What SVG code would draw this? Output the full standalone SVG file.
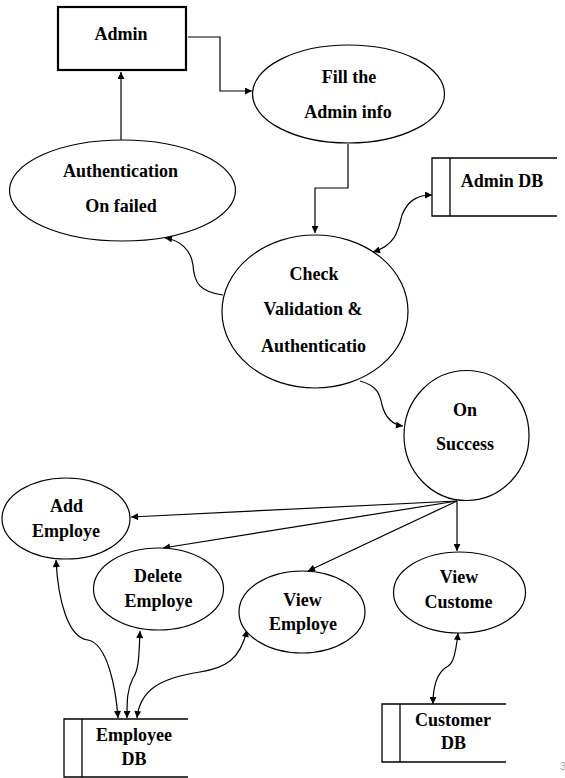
<svg xmlns="http://www.w3.org/2000/svg" width="565" height="778" viewBox="0 0 565 778">
<style>
.n{fill:#fff;stroke:#000;stroke-width:1.2}
.db{fill:none;stroke:#000;stroke-width:1.3}
.t{font-family:"Liberation Serif","Times New Roman",serif;font-weight:bold;font-size:18px;fill:#000;text-anchor:middle}
.c{fill:none;stroke:#000;stroke-width:1.2}
.a{marker-end:url(#ah)}
.b{marker-start:url(#ah);marker-end:url(#ah)}
</style>
<defs>
<marker id="ah" viewBox="0 0 10 10" refX="10" refY="5" markerWidth="8" markerHeight="7" markerUnits="userSpaceOnUse" orient="auto-start-reverse">
<path d="M0,0 L10,5 L0,10 z" fill="#000"/>
</marker>
</defs>
<rect width="565" height="778" fill="#fff"/>
<g id="connectors">
<path class="c a" d="M188,37 H220 V91 H252"/>
<path class="c a" d="M121,140 V72"/>
<path class="c a" d="M348,144 V188 H315 V233"/>
<path class="c b" d="M373,252 C395,245 398,232 402,215 C408,200 418,195 432,195"/>
<path class="c a" d="M223,295 C200,292 194,283 193,265 C191,250 180,240 165,238"/>
<path class="c a" d="M360,381 C378,386 380,395 382,405 C386,420 395,425 403,426"/>
<path class="c a" d="M457,501 L131,517"/>
<path class="c a" d="M457,501 L163,548"/>
<path class="c a" d="M457,501 L308,571"/>
<path class="c a" d="M457,501 V551"/>
<path class="c b" d="M56,560 C58,600 68,638 88,640 C108,644 116,690 118,718"/>
<path class="c b" d="M140,631 C139,655 139,670 133,678 C127,690 127,700 127,718"/>
<path class="c b" d="M247,630 C240,660 225,668 200,672 C160,678 140,690 137,718"/>
<path class="c b" d="M458,633 C455,660 452,665 445,668 C436,675 433,690 433,704"/>
</g>
<g id="admin">
<rect x="58" y="7" width="128" height="63" fill="#fff" stroke="#000" stroke-width="2.2"/>
<text class="t" x="121" y="39.5">Admin</text>
</g>
<g id="fill-admin-info">
<ellipse class="n" cx="348.5" cy="94" rx="96" ry="49"/>
<text class="t" x="349" y="83">Fill the</text>
<text class="t" x="348" y="118">Admin info</text>
</g>
<g id="auth-failed">
<ellipse class="n" cx="122.5" cy="190.5" rx="113" ry="50.5"/>
<text class="t" x="120.5" y="177">Authentication</text>
<text class="t" x="121" y="212">On failed</text>
</g>
<g id="admin-db">
<path class="db" d="M557,158 H432 V216 H557 M450,158 V216"/>
<text class="t" x="502" y="187">Admin DB</text>
</g>
<g id="check-validation">
<ellipse class="n" cx="315" cy="311.5" rx="93" ry="76.5"/>
<text class="t" x="314" y="280">Check</text>
<text class="t" x="313" y="315">Validation &amp;</text>
<text class="t" x="313.5" y="351.5">Authenticatio</text>
</g>
<g id="on-success">
<ellipse class="n" cx="466.5" cy="435.5" rx="62.5" ry="65"/>
<text class="t" x="465" y="416">On</text>
<text class="t" x="465" y="450">Success</text>
</g>
<g id="add-employe">
<ellipse class="n" cx="66" cy="518.5" rx="64" ry="40.5"/>
<text class="t" x="66.5" y="512">Add</text>
<text class="t" x="66" y="536.5">Employe</text>
</g>
<g id="delete-employe">
<ellipse class="n" cx="158.5" cy="589" rx="65" ry="41"/>
<text class="t" x="158" y="582">Delete</text>
<text class="t" x="158.5" y="606.5">Employe</text>
</g>
<g id="view-employe">
<ellipse class="n" cx="302" cy="612" rx="63" ry="41"/>
<text class="t" x="302.5" y="605.5">View</text>
<text class="t" x="303" y="630">Employe</text>
</g>
<g id="view-custome">
<ellipse class="n" cx="459.5" cy="592.5" rx="66" ry="40.5"/>
<text class="t" x="459" y="583">View</text>
<text class="t" x="458.5" y="608">Custome</text>
</g>
<g id="employee-db">
<path class="db" d="M188,719 H64 V777 H188 M82,719 V777"/>
<text class="t" x="134" y="740.5">Employee</text>
<text class="t" x="134" y="765">DB</text>
</g>
<g id="customer-db">
<path class="db" d="M506,704 H382 V762 H506 M400,704 V762"/>
<text class="t" x="453" y="725.5">Customer</text>
<text class="t" x="453.5" y="749">DB</text>
</g>
<text x="560" y="770" font-family="Liberation Sans, Arial, sans-serif" font-size="10" fill="#aaa">3</text>
</svg>
